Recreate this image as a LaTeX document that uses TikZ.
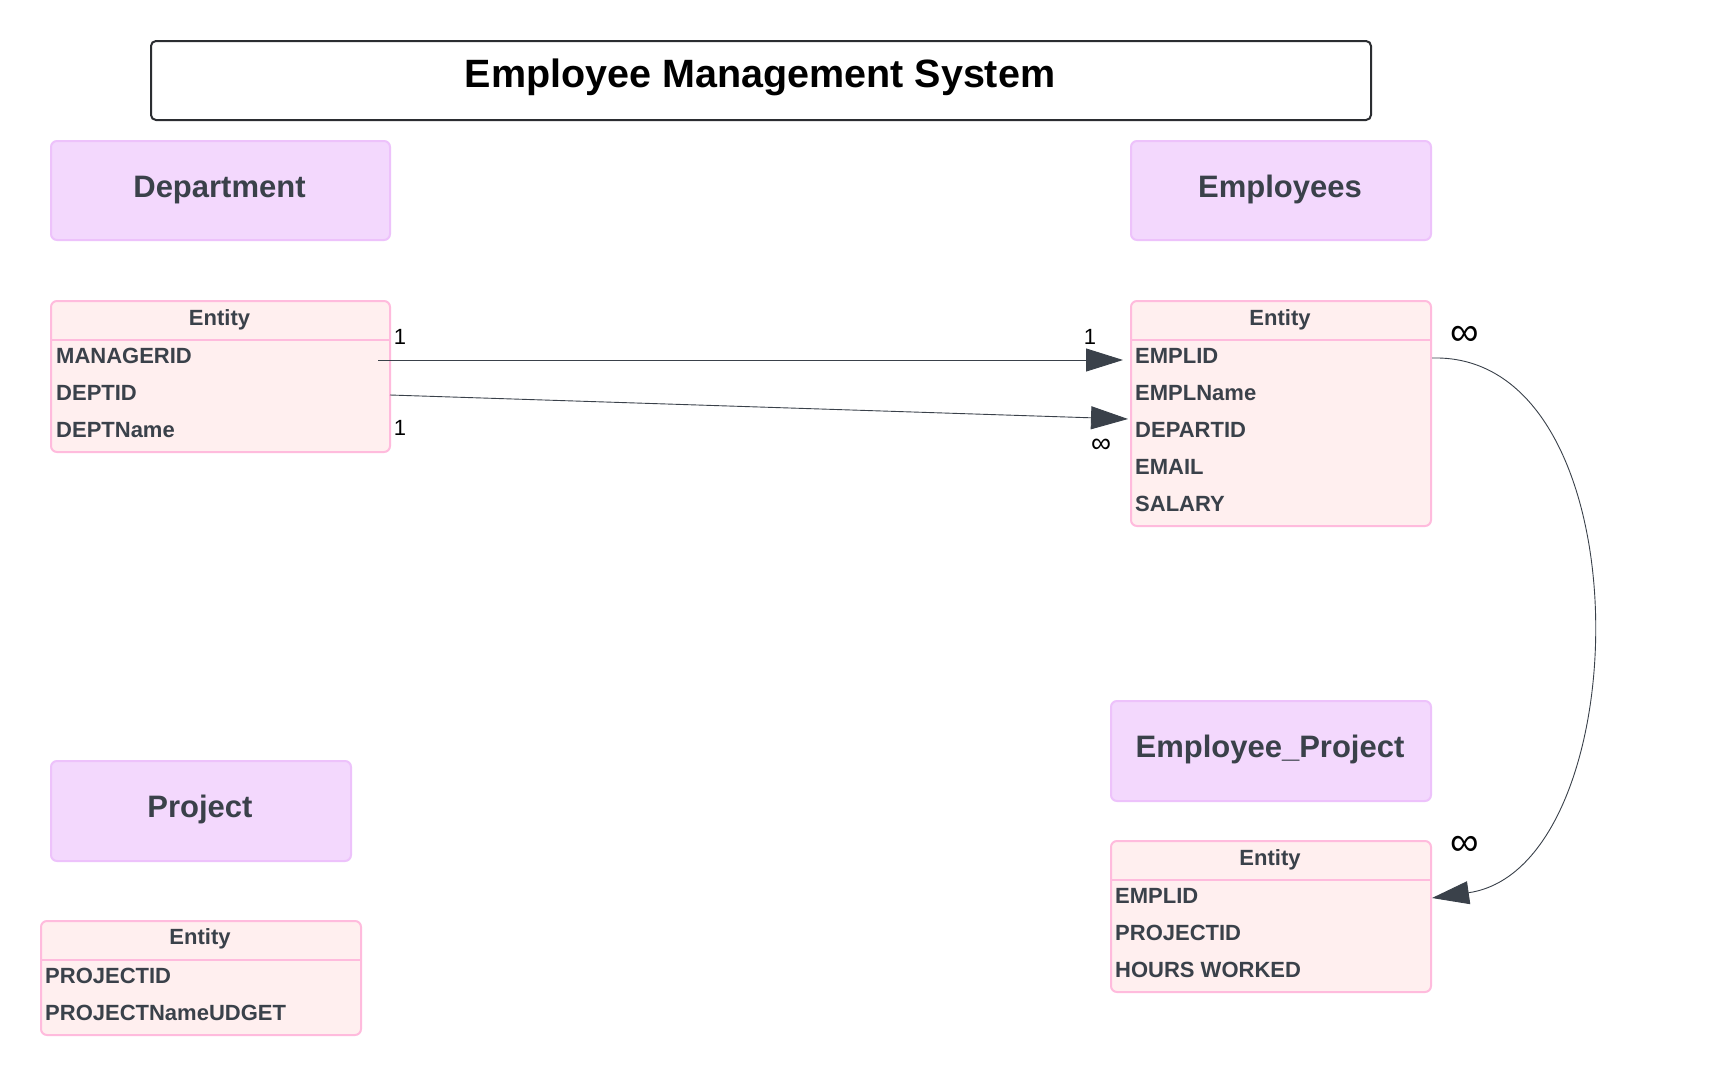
\documentclass[tikz,border=0pt]{standalone}
\usepackage{fontspec}
\setmainfont{Liberation Sans}
\usetikzlibrary{arrows.meta}
\definecolor{txt}{HTML}{3A414A}
\definecolor{hdrfill}{HTML}{F3D8FD}
\definecolor{hdrline}{HTML}{EDC2FB}
\definecolor{entfill}{HTML}{FFEFEF}
\definecolor{entline}{HTML}{FFBBDD}
\definecolor{ttl}{HTML}{2B2D31}
\begin{document}
\begin{tikzpicture}[x=1pt,y=-1pt,
  titlebox/.style={draw=ttl, line width=2pt, rounded corners=5pt, anchor=north west, inner sep=0pt},
  hdr/.style={draw=hdrline, fill=hdrfill, line width=2pt, rounded corners=6pt, anchor=north west, inner sep=0pt},
  hdrtext/.style={text=txt, font=\fontsize{31}{36}\selectfont\bfseries, anchor=base, inner sep=0pt},
  ent/.style={draw=entline, fill=entfill, line width=2pt, rounded corners=6pt, anchor=north west, inner sep=0pt},
  divline/.style={draw=entline, line width=2pt},
  etitle/.style={text=txt, font=\fontsize{22}{26}\selectfont\bfseries, anchor=base, inner sep=0pt},
  field/.style={text=txt, font=\fontsize{22}{26}\selectfont\bfseries, anchor=base west, inner sep=0pt},
  card/.style={font=\fontsize{22}{26}\selectfont, text=black, anchor=base, inner sep=0pt},
  infs/.style={font=\fontsize{28}{32}\selectfont, text=black, inner sep=0pt},
  infl/.style={font=\fontsize{40}{46}\selectfont, text=black, inner sep=0pt},
  rel/.style={draw=txt, line width=0.9pt, -{Triangle[length=37pt,width=23pt]}}
]
\useasboundingbox (0,0) rectangle (1730,1074);
\fill[white] (0,0) rectangle (1730,1074);

% title
\node[titlebox, minimum width=1220pt, minimum height=79pt] (title) at (150,40) {};
\node[anchor=base, inner sep=0pt, font=\fontsize{39.5}{46}\selectfont\bfseries] (titletext) at (760,87) {Employee Management System};

% header boxes
\node[hdr, minimum width=339pt, minimum height=99pt] (depth) at (50,140) {};
\node[hdrtext] (depthtext) at (219.5,197) {Department};
\node[hdr, minimum width=300pt, minimum height=99pt] (emph) at (1130,140) {};
\node[hdrtext] (emphtext) at (1280,197) {Employees};
\node[hdr, minimum width=300pt, minimum height=100pt] (projh) at (50,760) {};
\node[hdrtext] (projhtext) at (200,817) {Project};
\node[hdr, minimum width=320pt, minimum height=100pt] (eph) at (1110,700) {};
\node[hdrtext] (ephtext) at (1270,757) {Employee\_Project};

% Department entity
\node[ent, minimum width=339pt, minimum height=151pt] (dept) at (50,300) {};
\draw[divline] (50,340) -- (389,340);
\node[etitle] (depttitle) at (219.5,325) {Entity};
\node[field] (d1) at (56,363) {MANAGERID};
\node[field] (d2) at (56,400) {DEPTID};
\node[field] (d3) at (56,437) {DEPTName};

% Employees entity
\node[ent, minimum width=300pt, minimum height=225pt] (emp) at (1130,300) {};
\draw[divline] (1130,340) -- (1430,340);
\node[etitle] (emptitle) at (1280,325) {Entity};
\node[field] (e1) at (1135,363) {EMPLID};
\node[field] (e2) at (1135,400) {EMPLName};
\node[field] (e3) at (1135,437) {DEPARTID};
\node[field] (e4) at (1135,474) {EMAIL};
\node[field] (e5) at (1135,511) {SALARY};

% Employee_Project entity
\node[ent, minimum width=320pt, minimum height=151pt] (ep) at (1110,840) {};
\draw[divline] (1110,880) -- (1430,880);
\node[etitle] (eptitle) at (1270,865) {Entity};
\node[field] (p1) at (1115,903) {EMPLID};
\node[field] (p2) at (1115,940) {PROJECTID};
\node[field] (p3) at (1115,977) {HOURS WORKED};

% Project entity
\node[ent, minimum width=320pt, minimum height=114pt] (proj) at (40,920) {};
\draw[divline] (40,960) -- (360,960);
\node[etitle] (projtitle) at (200,944) {Entity};
\node[field] (q1) at (45,983) {PROJECTID};
\node[field] (q2) at (45,1020) {PROJECTNameUDGET};

% connector end points
\coordinate (a1s) at (378,360);
\coordinate (a1e) at (1123,360);
\coordinate (a2s) at (390,395);
\coordinate (a2e) at (1128,419);
\coordinate (a3s) at (1432,358);
\coordinate (a3e) at (1432,898);

\draw[rel] (a1s) -- (a1e);
\draw[rel] (a2s) -- (a2e);
\draw[rel] (a3s) .. controls (1648,352) and (1640,868) .. (a3e);

% cardinalities
\node[card] (c1) at (400,344) {1};
\node[card] (c2) at (400,435) {1};
\node[card] (c3) at (1090,344) {1};
\node[infs] (c4) at (1101,446) {∞};
\node[infl] (c5) at (1465,336) {∞};
\node[infl] (c6) at (1465,846) {∞};
\end{tikzpicture}
\end{document}
